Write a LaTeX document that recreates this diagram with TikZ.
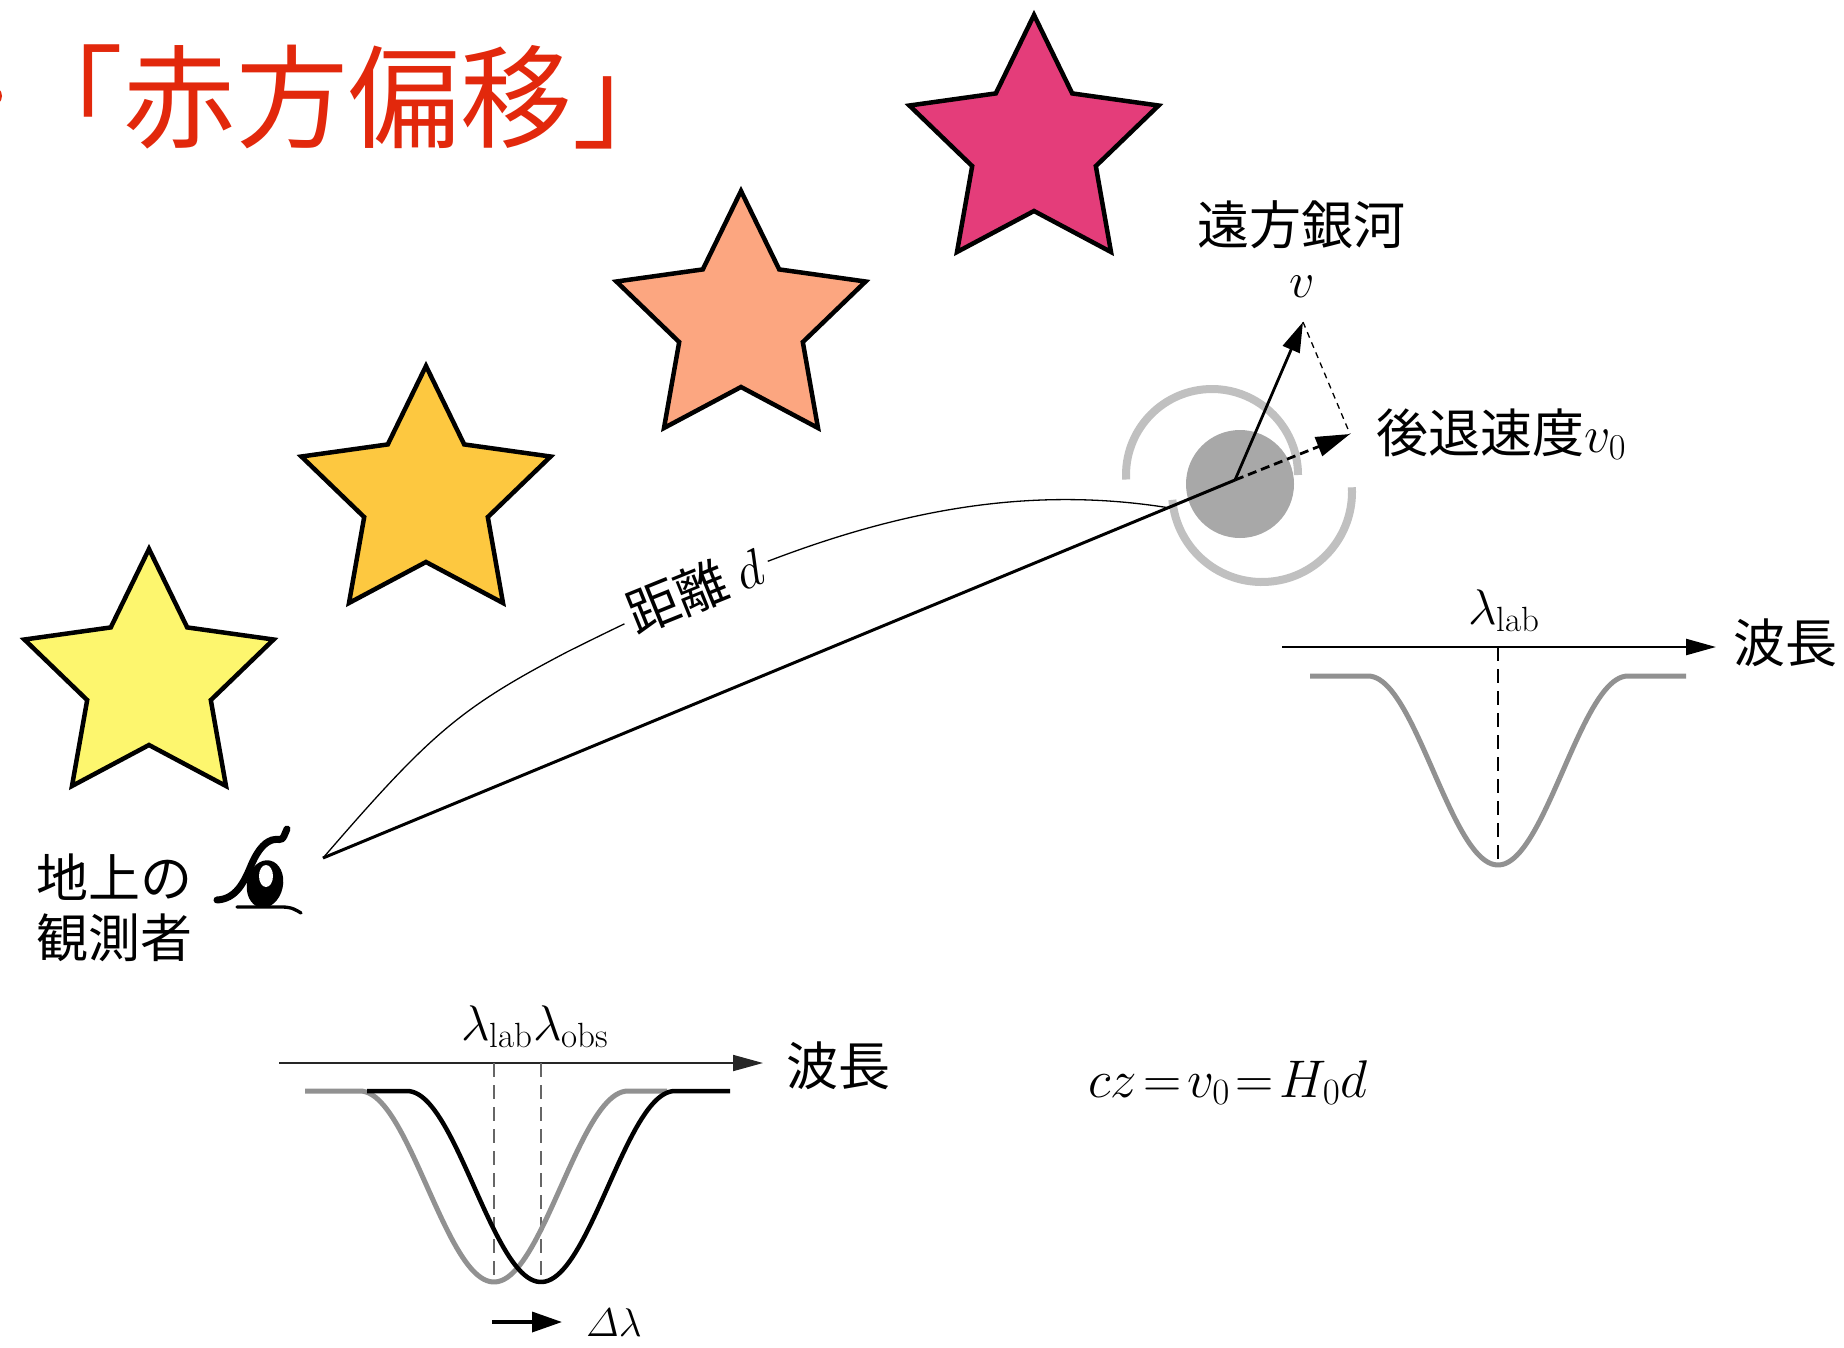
\RequirePackage{fix-cm}
\documentclass[tikz,border=0pt]{standalone}
\usepackage{amsmath}
\usepackage{fontspec}
\newfontfamily\jpfont{Noto Sans CJK JP}
\usetikzlibrary{arrows.meta}

\definecolor{staryellow}{RGB}{253,246,110}
\definecolor{starorange}{RGB}{253,200,64}
\definecolor{starsalmon}{RGB}{252,166,128}
\definecolor{starpink}{RGB}{228,61,122}
\definecolor{titlered}{RGB}{226,40,12}
\definecolor{ringgray}{RGB}{192,192,192}
\definecolor{discgray}{RGB}{168,168,168}
\definecolor{linegray}{RGB}{145,145,145}

\tikzset{
  starline/.style={draw=black, line width=4.5pt, line join=miter, miter limit=10},
  jp/.style={font=\jpfont\fontsize{52}{62}\selectfont, inner sep=0pt},
  mathlab/.style={font=\fontsize{50}{60}\selectfont, inner sep=0pt},
  ring/.style={draw=ringgray, line width=8pt},
  disc/.style={fill=discgray},
  bigtip/.style={-{Triangle[length=30pt,width=18pt]}},
  axistip/.style={-{Triangle[length=30pt,width=16pt]}},
  graycurve/.style={draw=linegray, line width=5pt},
  blackcurve/.style={draw=black, line width=4.5pt},
  marker/.style={line width=1.8pt, dash pattern=on 14pt off 8pt},
}

\begin{document}
\begin{tikzpicture}[x=1pt,y=-1pt]
\useasboundingbox[fill=white] (0,0) rectangle (1844,1347);

% title
\fill[titlered] (-8,96) circle[radius=10];
\node[font=\jpfont\fontsize{112}{120}\selectfont, text=titlered, inner sep=0pt, anchor=base]
  (title) at (348,139) {「赤方偏移」};

% four stars
\coordinate (s1) at (149,680);
\coordinate (s2) at (426,497);
\coordinate (s3) at (741,322);
\coordinate (s4) at (1034,146);
\foreach \c/\col in {s1/staryellow, s2/starorange, s3/starsalmon, s4/starpink}{
  \draw[starline, fill=\col] (\c) +(-90:131) -- +(-54:65) -- +(-18:131) -- +(18:65)
    -- +(54:131) -- +(90:65) -- +(126:131) -- +(162:65) -- +(198:131) -- +(234:65) -- cycle;
}

% distant galaxy: two spiral arms and the bulge
\draw[ring] (1212,475) ++(177:86) arc[start angle=177, end angle=360, radius=86];
\draw[ring] (1262,492) ++(175:90) arc[start angle=175, end angle=-3, radius=90];
\fill[disc] (1240,484) circle[radius=54];

\coordinate (gal) at (1235,480);
\coordinate (obs) at (323,858);
\coordinate (mid) at (567,652);
\coordinate (arcend) at (1170,508);
\coordinate (vtip) at (1303,322);
\coordinate (v0tip) at (1350,434);

% observer figure
\fill[rotate around={-12:(265,884)}] (265,884) ellipse[x radius=18, y radius=24];
\fill[white] (266,876) ellipse[x radius=7, y radius=11];
\draw[line width=7pt, line cap=round] (217,900) .. controls (236,899) and (244,882) .. (250,868)
  .. controls (256,853) and (263,843) .. (272,840) .. controls (278,838) and (281,842) .. (284,836) -- (287,829);
\draw[line width=3.3pt, line cap=round] (237,907) -- (282,907) .. controls (292,907) and (296,910) .. (301,913);

% line of sight and distance arc
\draw[line width=3pt] (obs) -- (gal);
\draw[line width=1.3pt] (obs) .. controls (430,734) and (460,708) .. (mid)
  .. controls (777,547) and (960,474) .. (arcend);
\node[jp, rotate=22, fill=white, inner sep=7pt] (dist) at (695,590) {距離 $d$};

% velocity vectors
\draw[line width=2.8pt, bigtip] (gal) -- (vtip);
\draw[line width=2.8pt, dash pattern=on 9pt off 5pt, -{Triangle[length=34pt,width=20pt]}] (gal) -- (v0tip);
\draw[line width=1.3pt, dash pattern=on 6pt off 5pt] (vtip) -- (v0tip);

% labels near the galaxy
\node[jp, anchor=base] (far) at (1301,244) {遠方銀河};
\node[mathlab, anchor=base] (vlab) at (1302,297) {$v$};
\node[jp, anchor=base west] (rec) at (1376,452) {後退速度$v_0$};

% observer label
\node[jp, anchor=base west] (obs1) at (36,897) {地上の};
\node[jp, anchor=base west] (obs2) at (36,957) {観測者};

% rest-frame spectrum
\coordinate (ra) at (1282,647);
\coordinate (rb) at (1716,647);
\draw[line width=2.4pt, axistip] (ra) -- (rb);
\node[jp, anchor=base west] (rwl) at (1733,662) {波長};
\node[mathlab, anchor=base] (rlab) at (1504,624) {$\lambda_{\mathrm{lab}}$};
\draw[marker] (1498,647) -- (1498,865);
\draw[graycurve] (1310,676) -- (1368,676) -- plot[domain=-180:180, samples=90]
  ({1498+0.72222*\x}, {676+94.5*(1+cos(\x))}) -- (1686,676);

% observed spectrum
\coordinate (la) at (279,1063);
\coordinate (lb) at (763,1063);
\draw[line width=1.8pt, black!85, axistip] (la) -- (lb);
\node[jp, anchor=base west] (lwl) at (786,1085) {波長};
\node[mathlab, anchor=base] (llab) at (535,1040) {$\lambda_{\mathrm{lab}}\lambda_{\mathrm{obs}}$};
\draw[marker, black!60, line width=1.5pt] (494,1063) -- (494,1282);
\draw[marker, black!60, line width=1.5pt] (541,1063) -- (541,1282);
\draw[graycurve] (305,1091) -- (360,1091) -- plot[domain=-180:180, samples=90]
  ({494+0.74444*\x}, {1091+95.5*(1+cos(\x))}) -- (667,1091);
\draw[blackcurve] (367,1091) -- (407,1091) -- plot[domain=-180:180, samples=90]
  ({541+0.74444*\x}, {1091+95.5*(1+cos(\x))}) -- (730,1091);

% shift
\coordinate (sa) at (492,1322);
\coordinate (sb) at (562,1322);
\draw[line width=3.5pt, -{Triangle[length=30pt,width=20pt]}] (sa) -- (sb);
\node[font=\fontsize{40}{48}\selectfont, inner sep=0pt, anchor=base west] (dl) at (586,1336) {$\varDelta\lambda$};

% Hubble law
\node[font=\fontsize{53}{62}\selectfont, inner sep=0pt, anchor=base] (law) at (1228,1097)
  {$cz\mkern2mu{=}\mkern2mu v_0\mkern2mu{=}\mkern2mu H_0d$};
\end{tikzpicture}
\end{document}
